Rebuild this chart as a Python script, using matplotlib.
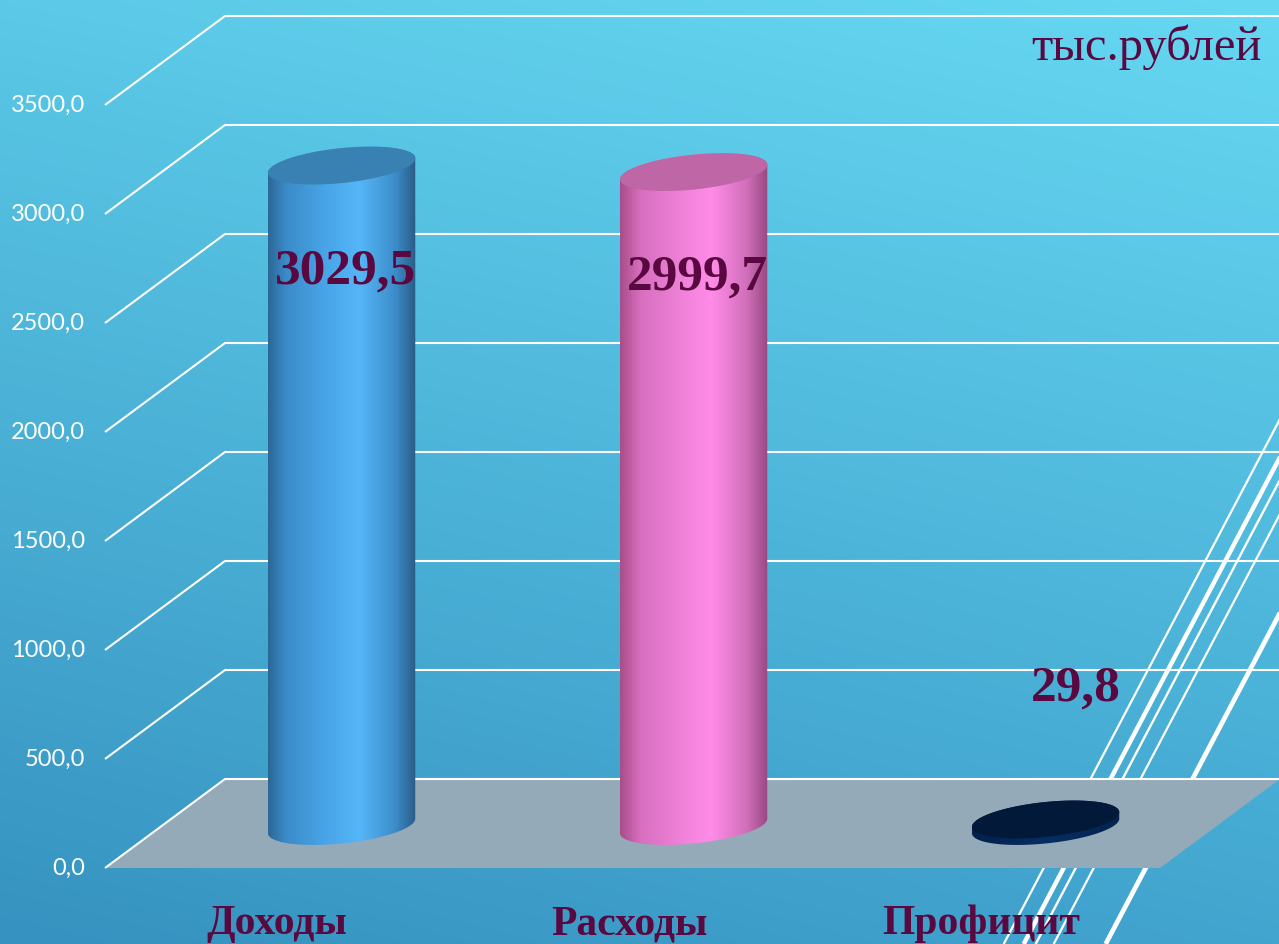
import numpy as np
import matplotlib
matplotlib.use("Agg")
import matplotlib.pyplot as plt
from matplotlib.colors import LinearSegmentedColormap
from matplotlib.patches import Polygon

# --- data ---
categories = ["Доходы", "Расходы", "Профицит"]
values = [3029.5, 2999.7, 29.8]
value_labels = ["3029,5", "2999,7", "29,8"]
yticks = [0, 500, 1000, 1500, 2000, 2500, 3000, 3500]
ytick_labels = ["0,0", "500,0", "1000,0", "1500,0", "2000,0", "2500,0", "3000,0", "3500,0"]
unit_label = "тыс.рублей"

# --- layout (pixels of a 1279x944 canvas) ---
W, H = 1279, 944
SX = 352.0            # px per category step
SY = 109.0 / 500.0    # px per value unit
X0, Y0 = 285.0, 868.0  # front position of category 0 / value 0
DX, DY = 120.0 / SX, 89.0 / SY   # depth of the 3-D box
BAR_DEPTH = 0.472
A_PX, B_PX, TILT = 74.0, 17.4, np.radians(6)
TEXT_COLOR = "#5a0840"

bar_maps = [
    LinearSegmentedColormap.from_list("blue", [(0, "#2b6796"), (0.12, "#3b8bc8"), (0.4, "#49a6e8"),
                                               (0.62, "#55b6f8"), (0.86, "#3d8dca"), (1, "#2a5c86")]),
    LinearSegmentedColormap.from_list("pink", [(0, "#a84d8a"), (0.14, "#d86fbf"), (0.42, "#ef82d8"),
                                               (0.62, "#ff8ce8"), (0.86, "#d06fb9"), (1, "#994883")]),
    LinearSegmentedColormap.from_list("navy", [(0, "#03214c"), (0.5, "#062e62"), (1, "#04234f")]),
]
cap_colors = ["#3981b2", "#be66a6", "#02193a"]


def px_x(p):
    return (p - X0) / SX


def px_y(p):
    return (Y0 - p) / SY


def ellipse(xc, yc, t):
    ex = A_PX * np.cos(t) * np.cos(TILT) - B_PX * np.sin(t) * np.sin(TILT)
    ey = A_PX * np.cos(t) * np.sin(TILT) + B_PX * np.sin(t) * np.cos(TILT)
    return xc + ex / SX, yc + ey / SY


fig = plt.figure(figsize=(W / 100, H / 100), dpi=100)

# background gradient + decorative strokes
bg = fig.add_axes([0, 0, 1, 1])
gy, gx = np.mgrid[0:1:200j, 0:1:200j]
corners = {k: np.array(matplotlib.colors.to_rgb(c)) for k, c in
           [("tl", "#5bc9e7"), ("tr", "#66d8f2"), ("bl", "#3692c0"), ("br", "#42a5cf")]}
img = ((1 - gx) * (1 - gy))[..., None] * corners["tl"] + (gx * (1 - gy))[..., None] * corners["tr"] \
    + ((1 - gx) * gy)[..., None] * corners["bl"] + (gx * gy)[..., None] * corners["br"]
bg.imshow(img, extent=[0, W, H, 0], aspect="auto", interpolation="bilinear")
for x780, lw in [(1090, 1.6), (1110, 3.2), (1122, 1.7), (1140, 1.6), (1192, 3.4)]:
    slope = 1.9
    bg.plot([x780 - (H - 780) / slope, x780 + 780 / slope], [H, 0], color="white", lw=lw,
            solid_capstyle="butt")
bg.set_xlim(0, W)
bg.set_ylim(H, 0)
bg.axis("off")

# chart
ax = fig.add_axes([0, 0, 1, 1])
ax.patch.set_alpha(0)
xlim = (px_x(0), px_x(W))
ylim = (px_y(H), px_y(0))

x_fl, x_fr = px_x(105), px_x(1160)
floor = Polygon([(x_fl, 0), (x_fr, 0), (x_fr + DX, DY), (x_fl + DX, DY)],
                closed=True, facecolor="#95aab8", edgecolor="none", zorder=1)
ax.add_patch(floor)

for v, lab in zip(yticks, ytick_labels):
    ax.plot([x_fl, x_fl + DX, xlim[1]], [v, v + DY, v + DY], color="white", lw=1.5, zorder=2,
            solid_capstyle="butt")
    ax.text(px_x(85), v, lab, ha="right", va="center", color="white", fontsize=17,
            family="Lato", zorder=5)

delta = np.arctan(-(B_PX / A_PX) * np.tan(TILT))
t_low = np.linspace(np.pi + delta, 2 * np.pi + delta, 120)
t_up = np.linspace(delta, np.pi + delta, 120)
t_all = np.linspace(0, 2 * np.pi, 240)

for i, (v, cmap, cap) in enumerate(zip(values, bar_maps, cap_colors)):
    xc = i + BAR_DEPTH * DX
    y0 = BAR_DEPTH * DY
    bx, by = ellipse(xc, y0, t_low)
    tx, ty = ellipse(xc, y0 + v, t_up)
    body = Polygon(np.column_stack([np.r_[bx, tx], np.r_[by, ty]]), closed=True,
                   facecolor="none", edgecolor="none", zorder=3)
    ax.add_patch(body)
    im = ax.imshow(np.linspace(0, 1, 256)[None, :], cmap=cmap, aspect="auto",
                   extent=[bx.min(), bx.max(), by.min(), ty.max()], zorder=3,
                   interpolation="bilinear")
    im.set_clip_path(body)
    cx, cy = ellipse(xc, y0 + v, t_all)
    ax.add_patch(Polygon(np.column_stack([cx, cy]), closed=True, facecolor=cap,
                         edgecolor="none", zorder=4))

    # value label: inside tall bars, above short ones
    if v > 500:
        lx, ly = xc + 4 / SX, y0 + v - 486
    else:
        lx, ly = xc + 30 / SX, y0 + v + 600
    ax.text(lx, ly, value_labels[i], ha="center", va="center", color=TEXT_COLOR,
            fontsize=37, fontweight="bold", family="Liberation Serif", zorder=6)

    ax.text(i - 8 / SX, px_y(934), categories[i], ha="center", va="baseline", color=TEXT_COLOR,
            fontsize=30, fontweight="bold", family="Liberation Serif", zorder=6)

ax.text(px_x(1262), px_y(60), unit_label, ha="right", va="baseline", color=TEXT_COLOR,
        fontsize=35, family="Liberation Serif", zorder=6)

ax.set_xlim(*xlim)
ax.set_ylim(*ylim)
ax.axis("off")

fig.savefig("out.png", dpi=100)
